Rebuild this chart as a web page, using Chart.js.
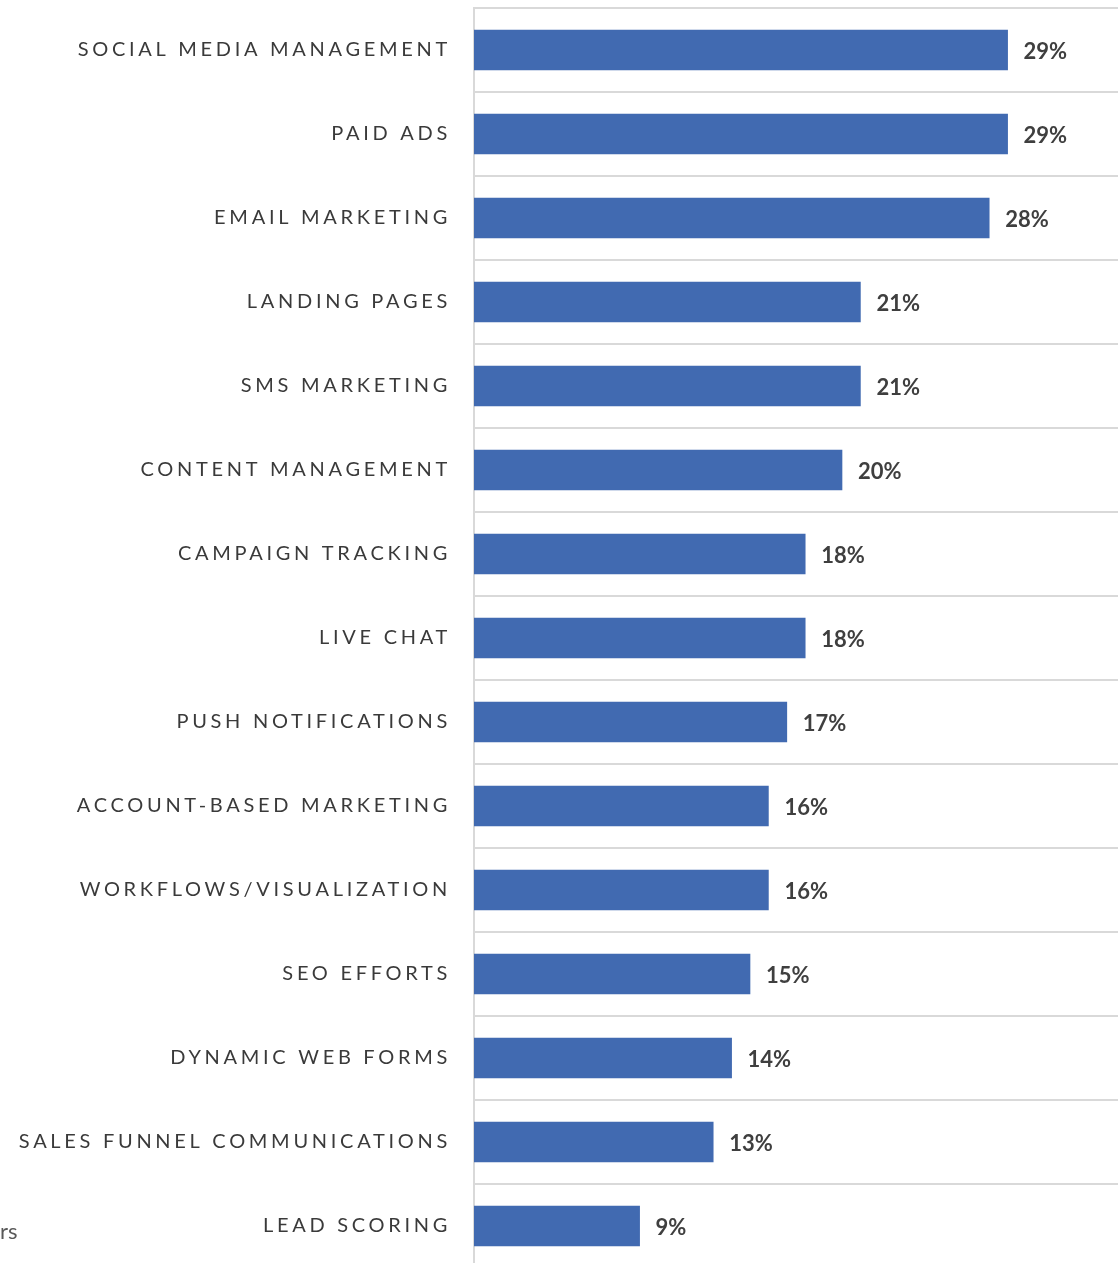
<!DOCTYPE html>
<html>
<head>
<meta charset="utf-8">
<script src="https://cdn.jsdelivr.net/npm/chart.js@4/dist/chart.umd.min.js"></script>
<style>
  html, body { margin: 0; padding: 0; background: #fff; }
  #wrap { width: 1118px; height: 1263px; overflow: hidden; position: relative; }
</style>
</head>
<body>
<div id="wrap"><canvas id="featChart" width="1118" height="1268"></canvas></div>
<script>
// Share of respondents using each feature
const features = [
    'SOCIAL MEDIA MANAGEMENT', 'PAID ADS', 'EMAIL MARKETING', 'LANDING PAGES',
    'SMS MARKETING', 'CONTENT MANAGEMENT', 'CAMPAIGN TRACKING', 'LIVE CHAT',
    'PUSH NOTIFICATIONS', 'ACCOUNT-BASED MARKETING', 'WORKFLOWS/VISUALIZATION',
    'SEO EFFORTS', 'DYNAMIC WEB FORMS', 'SALES FUNNEL COMMUNICATIONS', 'LEAD SCORING'
];
const shares = [29, 29, 28, 21, 21, 20, 18, 18, 17, 16, 16, 15, 14, 13, 9];
const xRange = [0, 35];

// letter-spaced axis labels, then plain text for the rest
const spacingPlugin = {
    id: 'spacing',
    beforeDraw(chart) { chart.ctx.letterSpacing = '3.7px'; },
    beforeDatasetsDraw(chart) { chart.ctx.letterSpacing = '0px'; }
};

const valueLabels = {
    id: 'valueLabels',
    afterDatasetsDraw(chart) {
        const ctx = chart.ctx;
        const meta = chart.getDatasetMeta(0);
        ctx.save();
        ctx.letterSpacing = '0px';
        ctx.font = 'bold 22px Lato';
        ctx.fillStyle = '#3f3f3f';
        ctx.textAlign = 'left';
        ctx.textBaseline = 'middle';
        meta.data.forEach((bar, i) => {
            ctx.fillText(shares[i] + '%', bar.x + 16, bar.y + 2);
        });
        // leftover of a cut-off note at the bottom left
        ctx.font = '22px Lato';
        ctx.fillStyle = '#595959';
        ctx.fillText('rs', 0, 1232);
        ctx.restore();
    }
};

const ctx = document.getElementById('featChart').getContext('2d');
const featChart = new Chart(ctx, {
    type: 'bar',
    data: {
        labels: features,
        datasets: [{
            data: shares,
            backgroundColor: '#416ab1',
            borderWidth: 0,
            barThickness: 40
        }]
    },
    options: {
        indexAxis: 'y',
        responsive: false,
        animation: false,
        layout: { padding: { top: 8, right: 0, bottom: 0, left: 0 } },
        plugins: { legend: { display: false }, tooltip: { enabled: false } },
        scales: {
            x: { display: false, min: xRange[0], max: xRange[1] },
            y: {
                afterFit(scale) {
                    scale.width = 474;
                    scale.paddingTop = 0;
                    scale.paddingBottom = 0;
                },
                grid: { color: '#d9d9d9', lineWidth: 2, drawTicks: false, offset: true },
                border: { color: '#d9d9d9', width: 2 },
                ticks: {
                    padding: 23,
                    color: '#3a3a3a',
                    font: { family: 'Lato', size: 20 }
                }
            }
        }
    },
    plugins: [spacingPlugin, valueLabels]
});
</script>
</body>
</html>
